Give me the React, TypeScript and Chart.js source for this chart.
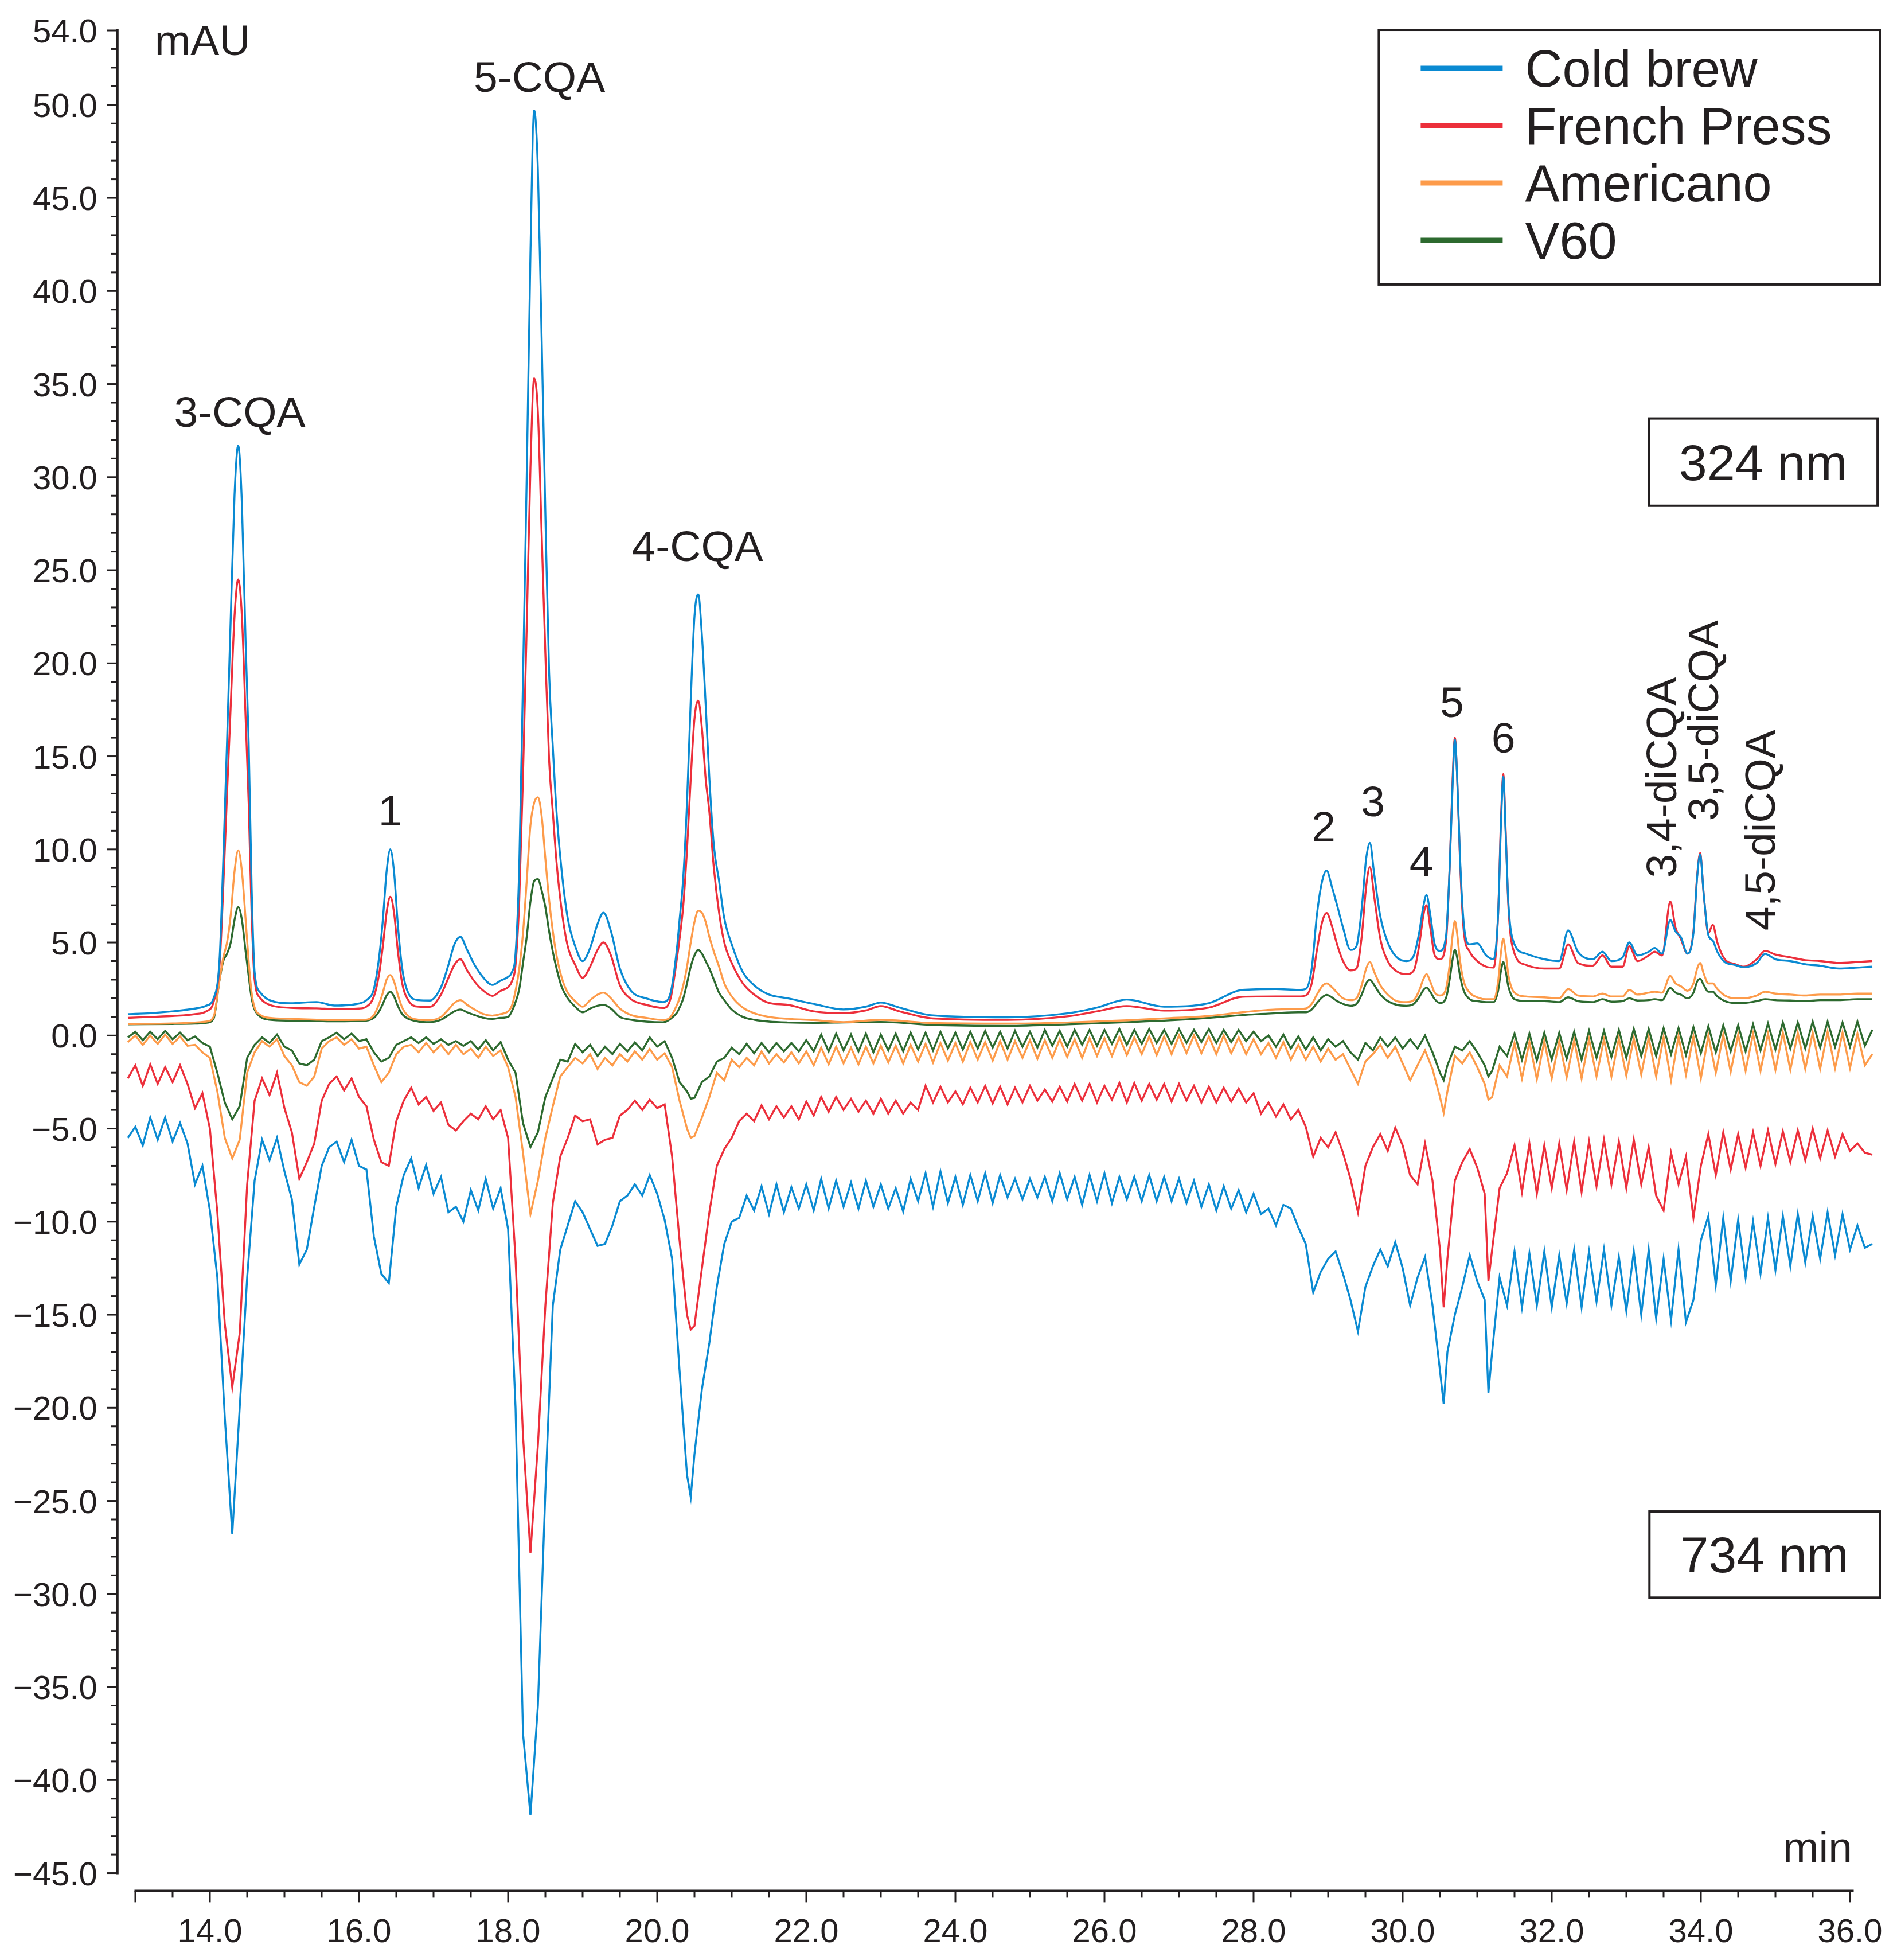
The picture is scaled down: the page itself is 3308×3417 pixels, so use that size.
import React, { useEffect, useRef } from 'react';
import { Chart, registerables } from 'chart.js';

Chart.register(...registerables);

const seriesNames = ['Cold brew', 'French Press', 'Americano', 'V60'];
const seriesColors = ['#0a8ad2', '#ec2f3b', '#fd9b4a', '#2d6a2f'];

// 324 nm traces: [retention time (min), signal (mAU)]
const coldBrew324: [number, number][] = [
  [12.9, 1.15], [13.2, 1.2], [13.5, 1.3], [13.8, 1.45], [13.95, 1.6], [14.05, 2.0], [14.13, 4.1], [14.18, 9.5], [14.23, 15.8], [14.28, 22.5],
  [14.33, 29.0], [14.38, 31.7], [14.43, 28.5], [14.48, 21.0], [14.52, 15.8], [14.56, 8.0], [14.6, 3.4], [14.68, 2.3], [14.8, 1.9], [15.08, 1.74],
  [15.43, 1.8], [15.67, 1.61], [16.0, 1.72], [16.1, 1.9], [16.2, 2.5], [16.27, 4.2], [16.32, 6.2], [16.37, 8.8], [16.42, 10.0], [16.47, 8.8],
  [16.52, 6.0], [16.58, 3.6], [16.66, 2.3], [16.8, 1.9], [16.95, 1.88], [17.1, 2.6], [17.2, 3.8], [17.28, 4.9], [17.36, 5.3], [17.45, 4.6],
  [17.55, 3.8], [17.67, 3.1], [17.79, 2.72], [17.9, 2.95], [18.0, 3.15], [18.05, 3.4], [18.1, 4.4], [18.15, 9.1], [18.2, 19.1], [18.25, 30.0],
  [18.3, 42.0], [18.35, 49.7], [18.4, 46.5], [18.45, 37.5], [18.5, 28.0], [18.55, 19.5], [18.6, 15.5], [18.65, 12.0], [18.72, 8.8], [18.8, 6.3],
  [18.9, 4.8], [19.0, 4.0], [19.1, 4.7], [19.2, 6.0], [19.28, 6.6], [19.38, 5.6], [19.5, 3.6], [19.65, 2.4], [19.85, 2.0], [20.08, 1.8],
  [20.18, 2.3], [20.26, 4.5], [20.3, 6.2], [20.35, 8.5], [20.4, 12.5], [20.45, 18.0], [20.5, 22.5], [20.55, 23.7], [20.6, 21.5], [20.65, 17.8],
  [20.7, 13.8], [20.76, 10.2], [20.83, 8.3], [20.9, 6.3], [21.0, 4.9], [21.15, 3.4], [21.3, 2.7], [21.5, 2.2], [21.75, 2.0], [22.1, 1.7],
  [22.5, 1.4], [22.8, 1.55], [23.0, 1.77], [23.25, 1.5], [23.7, 1.08], [24.7, 0.98], [25.5, 1.19], [25.9, 1.5], [26.3, 1.93], [26.8, 1.55],
  [27.4, 1.74], [27.85, 2.45], [28.3, 2.5], [28.6, 2.45], [28.7, 2.5], [28.78, 3.6], [28.85, 6.5], [28.92, 8.3], [28.98, 8.86], [29.05, 8.0],
  [29.12, 7.0], [29.2, 5.8], [29.3, 4.6], [29.38, 4.8], [29.45, 6.8], [29.51, 9.5], [29.56, 10.35], [29.62, 8.6], [29.7, 6.4], [29.8, 5.0],
  [29.92, 4.2], [30.05, 4.0], [30.15, 4.3], [30.22, 5.5], [30.28, 7.0], [30.32, 7.55], [30.37, 6.5], [30.43, 4.9], [30.5, 4.55], [30.58, 5.3],
  [30.63, 9.0], [30.67, 13.5], [30.7, 15.9], [30.73, 14.0], [30.77, 9.5], [30.82, 6.0], [30.9, 4.9], [31.0, 4.95], [31.12, 4.3], [31.22, 4.1],
  [31.28, 6.5], [31.32, 11.5], [31.35, 13.9], [31.38, 11.0], [31.42, 7.0], [31.5, 4.9], [31.65, 4.4], [31.9, 4.1], [32.1, 4.0], [32.22, 5.65],
  [32.35, 4.5], [32.55, 4.1], [32.68, 4.5], [32.8, 4.0], [32.95, 4.2], [33.04, 5.0], [33.15, 4.3], [33.3, 4.5], [33.38, 4.7], [33.48, 4.4],
  [33.59, 6.2], [33.66, 5.6], [33.73, 5.3], [33.82, 4.4], [33.9, 5.5], [33.95, 8.5], [33.99, 9.73], [34.04, 7.5], [34.1, 5.4], [34.16, 5.1],
  [34.22, 4.5], [34.32, 3.95], [34.45, 3.8], [34.58, 3.67], [34.75, 3.9], [34.86, 4.38], [35.0, 4.1], [35.2, 4.0], [35.4, 3.83], [35.6, 3.75],
  [35.85, 3.6], [36.1, 3.65], [36.3, 3.7],
];

const frenchPress324: [number, number][] = [
  [12.9, 0.95], [13.2, 1.0], [13.5, 1.05], [13.8, 1.15], [13.95, 1.3], [14.05, 1.8], [14.13, 3.8], [14.18, 8.0], [14.23, 13.0], [14.28, 17.8],
  [14.33, 22.5], [14.38, 24.5], [14.43, 22.5], [14.48, 17.0], [14.52, 12.5], [14.56, 6.5], [14.6, 3.0], [14.68, 2.0], [14.8, 1.65], [15.08, 1.49],
  [15.43, 1.46], [15.67, 1.42], [16.0, 1.45], [16.1, 1.55], [16.2, 2.1], [16.27, 3.3], [16.32, 4.8], [16.37, 6.6], [16.42, 7.45], [16.47, 6.6],
  [16.52, 4.6], [16.58, 2.8], [16.66, 1.9], [16.8, 1.55], [16.95, 1.54], [17.1, 2.2], [17.2, 3.1], [17.28, 3.8], [17.36, 4.1], [17.45, 3.5],
  [17.55, 2.9], [17.67, 2.4], [17.79, 2.13], [17.9, 2.4], [18.0, 2.6], [18.05, 2.9], [18.1, 3.8], [18.15, 7.3], [18.2, 14.0], [18.25, 22.0],
  [18.3, 30.5], [18.35, 35.3], [18.4, 33.5], [18.45, 27.0], [18.5, 20.5], [18.55, 14.8], [18.6, 12.0], [18.65, 9.3], [18.72, 6.7], [18.8, 4.8],
  [18.9, 3.8], [19.0, 3.1], [19.1, 3.7], [19.2, 4.6], [19.28, 5.0], [19.38, 4.3], [19.5, 2.7], [19.65, 1.95], [19.85, 1.65], [20.08, 1.48],
  [20.18, 2.0], [20.26, 4.0], [20.3, 5.2], [20.35, 7.0], [20.4, 10.0], [20.45, 13.8], [20.5, 17.0], [20.55, 18.0], [20.6, 16.5], [20.65, 13.8],
  [20.7, 12.0], [20.76, 9.0], [20.83, 6.6], [20.9, 5.0], [21.0, 3.9], [21.15, 2.8], [21.3, 2.2], [21.5, 1.75], [21.75, 1.65], [22.1, 1.3],
  [22.5, 1.2], [22.8, 1.35], [23.0, 1.58], [23.25, 1.3], [23.7, 0.92], [24.7, 0.84], [25.5, 1.03], [25.9, 1.3], [26.3, 1.58], [26.8, 1.34],
  [27.4, 1.5], [27.85, 2.08], [28.3, 2.1], [28.6, 2.1], [28.7, 2.15], [28.78, 2.8], [28.85, 4.6], [28.92, 6.1], [28.98, 6.58], [29.05, 5.9],
  [29.12, 4.9], [29.2, 4.0], [29.3, 3.5], [29.38, 3.6], [29.45, 5.3], [29.51, 8.0], [29.56, 9.05], [29.62, 7.4], [29.7, 5.2], [29.8, 4.0],
  [29.92, 3.45], [30.05, 3.3], [30.15, 3.5], [30.22, 4.8], [30.28, 6.5], [30.32, 7.0], [30.37, 5.8], [30.43, 4.3], [30.5, 4.1], [30.58, 5.0],
  [30.63, 9.0], [30.67, 13.8], [30.7, 16.0], [30.73, 14.0], [30.77, 9.3], [30.82, 5.6], [30.9, 4.5], [31.0, 4.0], [31.12, 3.7], [31.22, 3.65],
  [31.28, 6.5], [31.32, 11.8], [31.35, 14.05], [31.38, 11.2], [31.42, 6.8], [31.5, 4.4], [31.65, 3.8], [31.9, 3.6], [32.1, 3.6], [32.22, 4.9],
  [32.35, 3.9], [32.55, 3.75], [32.68, 4.3], [32.8, 3.7], [32.95, 3.7], [33.04, 4.8], [33.15, 4.0], [33.3, 4.3], [33.38, 4.5], [33.48, 4.3],
  [33.59, 7.2], [33.66, 5.8], [33.73, 5.2], [33.82, 4.4], [33.9, 5.6], [33.95, 8.6], [33.99, 9.8], [34.04, 7.5], [34.1, 5.5], [34.16, 5.95],
  [34.22, 5.0], [34.32, 4.1], [34.45, 3.85], [34.58, 3.7], [34.75, 4.1], [34.86, 4.55], [35.0, 4.35], [35.2, 4.2], [35.4, 4.05], [35.6, 4.0],
  [35.85, 3.9], [36.1, 3.95], [36.3, 4.0],
];

const americano324: [number, number][] = [
  [12.9, 0.62], [13.5, 0.65], [13.8, 0.7], [13.95, 0.75], [14.05, 1.0], [14.13, 3.0], [14.18, 4.2], [14.23, 5.0], [14.28, 6.5], [14.33, 8.8],
  [14.38, 9.95], [14.43, 8.8], [14.48, 6.2], [14.52, 4.0], [14.56, 2.3], [14.6, 1.5], [14.68, 1.1], [14.8, 0.95], [15.08, 0.9], [15.43, 0.85],
  [15.67, 0.83], [16.0, 0.84], [16.1, 0.85], [16.2, 1.1], [16.27, 1.7], [16.32, 2.3], [16.37, 3.0], [16.42, 3.25], [16.47, 2.9], [16.52, 2.2],
  [16.58, 1.5], [16.66, 1.05], [16.8, 0.85], [16.95, 0.83], [17.1, 1.0], [17.2, 1.4], [17.28, 1.75], [17.36, 1.9], [17.45, 1.65], [17.55, 1.4],
  [17.67, 1.15], [17.79, 1.07], [17.9, 1.15], [18.0, 1.3], [18.05, 1.6], [18.1, 2.4], [18.15, 3.6], [18.2, 5.5], [18.25, 8.3], [18.3, 11.3],
  [18.35, 12.5], [18.4, 12.8], [18.45, 11.8], [18.5, 9.5], [18.55, 7.3], [18.6, 5.6], [18.65, 4.3], [18.72, 3.1], [18.8, 2.3], [18.9, 1.85],
  [19.0, 1.55], [19.1, 1.9], [19.2, 2.2], [19.28, 2.3], [19.38, 2.0], [19.5, 1.45], [19.65, 1.1], [19.85, 0.95], [20.08, 0.83], [20.18, 1.0],
  [20.26, 1.6], [20.3, 2.0], [20.35, 2.7], [20.4, 3.7], [20.45, 5.0], [20.5, 6.1], [20.55, 6.7], [20.6, 6.6], [20.65, 6.1], [20.7, 5.3],
  [20.76, 4.5], [20.83, 3.7], [20.9, 2.8], [21.0, 2.1], [21.15, 1.5], [21.3, 1.2], [21.5, 1.0], [21.75, 0.9], [22.1, 0.83], [22.5, 0.72],
  [23.0, 0.84], [23.7, 0.67], [24.7, 0.64], [25.5, 0.7], [26.3, 0.82], [26.8, 0.92], [27.4, 1.05], [27.85, 1.25], [28.3, 1.4], [28.6, 1.42],
  [28.7, 1.45], [28.78, 1.7], [28.85, 2.2], [28.92, 2.65], [28.98, 2.8], [29.05, 2.6], [29.12, 2.3], [29.2, 2.0], [29.3, 1.9], [29.38, 2.0],
  [29.45, 2.7], [29.51, 3.6], [29.56, 3.95], [29.62, 3.4], [29.7, 2.7], [29.8, 2.2], [29.92, 1.85], [30.05, 1.8], [30.15, 1.9], [30.22, 2.4],
  [30.28, 3.05], [30.32, 3.3], [30.37, 2.9], [30.43, 2.3], [30.5, 2.15], [30.58, 2.5], [30.63, 3.8], [30.67, 5.4], [30.7, 6.15], [30.73, 5.5],
  [30.77, 4.0], [30.82, 2.9], [30.9, 2.3], [31.0, 2.05], [31.12, 1.95], [31.22, 1.95], [31.28, 2.9], [31.32, 4.5], [31.35, 5.2], [31.38, 4.5],
  [31.42, 3.2], [31.5, 2.3], [31.65, 2.1], [31.9, 2.05], [32.1, 2.0], [32.22, 2.5], [32.35, 2.15], [32.55, 2.1], [32.68, 2.25], [32.8, 2.1],
  [32.95, 2.1], [33.04, 2.45], [33.15, 2.2], [33.3, 2.3], [33.38, 2.35], [33.48, 2.3], [33.59, 3.2], [33.66, 2.8], [33.73, 2.65], [33.82, 2.4],
  [33.9, 2.8], [33.95, 3.6], [33.99, 3.9], [34.04, 3.3], [34.1, 2.8], [34.16, 2.8], [34.22, 2.5], [34.32, 2.15], [34.45, 2.0], [34.58, 2.0],
  [34.75, 2.15], [34.86, 2.35], [35.0, 2.25], [35.2, 2.2], [35.4, 2.15], [35.6, 2.2], [35.85, 2.2], [36.1, 2.25], [36.3, 2.25],
];

const v60324: [number, number][] = [
  [12.9, 0.6], [13.5, 0.62], [13.8, 0.64], [13.95, 0.68], [14.05, 0.9], [14.13, 3.0], [14.18, 4.0], [14.23, 4.4], [14.28, 5.0], [14.33, 6.2],
  [14.38, 6.9], [14.43, 6.2], [14.48, 4.5], [14.52, 3.2], [14.56, 2.0], [14.6, 1.4], [14.68, 1.0], [14.8, 0.85], [15.08, 0.8], [15.43, 0.78],
  [15.67, 0.76], [16.0, 0.78], [16.1, 0.8], [16.2, 0.95], [16.27, 1.3], [16.32, 1.7], [16.37, 2.15], [16.42, 2.35], [16.47, 2.1], [16.52, 1.6],
  [16.58, 1.15], [16.66, 0.9], [16.8, 0.75], [16.95, 0.72], [17.1, 0.85], [17.2, 1.1], [17.28, 1.3], [17.36, 1.4], [17.45, 1.25], [17.55, 1.1],
  [17.67, 0.95], [17.79, 0.89], [17.9, 0.95], [18.0, 1.0], [18.05, 1.3], [18.1, 1.8], [18.15, 2.5], [18.2, 3.9], [18.25, 5.3], [18.3, 7.2],
  [18.35, 8.3], [18.4, 8.4], [18.45, 7.8], [18.5, 6.9], [18.55, 5.6], [18.6, 4.5], [18.65, 3.6], [18.72, 2.6], [18.8, 2.0], [18.9, 1.55],
  [19.0, 1.25], [19.1, 1.45], [19.2, 1.6], [19.28, 1.65], [19.38, 1.45], [19.5, 1.0], [19.65, 0.85], [19.85, 0.75], [20.08, 0.71], [20.18, 0.9],
  [20.26, 1.2], [20.3, 1.5], [20.35, 2.0], [20.4, 2.8], [20.45, 3.7], [20.5, 4.3], [20.55, 4.6], [20.6, 4.4], [20.65, 4.0], [20.7, 3.6],
  [20.76, 3.0], [20.83, 2.3], [20.9, 1.9], [21.0, 1.4], [21.15, 1.0], [21.3, 0.85], [21.5, 0.75], [21.75, 0.7], [22.1, 0.68], [22.5, 0.7],
  [23.0, 0.73], [23.7, 0.57], [24.7, 0.52], [25.5, 0.6], [26.3, 0.72], [26.8, 0.8], [27.4, 0.95], [27.85, 1.1], [28.3, 1.2], [28.6, 1.25],
  [28.7, 1.25], [28.78, 1.4], [28.85, 1.75], [28.92, 2.05], [28.98, 2.18], [29.05, 2.05], [29.12, 1.85], [29.2, 1.7], [29.3, 1.6], [29.38, 1.7],
  [29.45, 2.2], [29.51, 2.8], [29.56, 3.0], [29.62, 2.7], [29.7, 2.2], [29.8, 1.85], [29.92, 1.65], [30.05, 1.6], [30.15, 1.7], [30.22, 2.05],
  [30.28, 2.45], [30.32, 2.57], [30.37, 2.35], [30.43, 1.95], [30.5, 1.75], [30.58, 2.0], [30.63, 3.0], [30.67, 4.1], [30.7, 4.6], [30.73, 4.2],
  [30.77, 3.2], [30.82, 2.4], [30.9, 1.95], [31.0, 1.85], [31.12, 1.8], [31.22, 1.8], [31.28, 2.4], [31.32, 3.5], [31.35, 3.95], [31.38, 3.5],
  [31.42, 2.6], [31.5, 1.95], [31.65, 1.85], [31.9, 1.85], [32.1, 1.8], [32.22, 2.05], [32.35, 1.85], [32.55, 1.8], [32.68, 1.95], [32.8, 1.82],
  [32.95, 1.85], [33.04, 2.0], [33.15, 1.88], [33.3, 1.9], [33.38, 1.95], [33.48, 1.9], [33.59, 2.55], [33.66, 2.3], [33.73, 2.2], [33.82, 2.0],
  [33.9, 2.3], [33.95, 2.9], [33.99, 3.05], [34.04, 2.7], [34.1, 2.35], [34.16, 2.35], [34.22, 2.1], [34.32, 1.85], [34.45, 1.75], [34.58, 1.75],
  [34.75, 1.85], [34.86, 1.95], [35.0, 1.9], [35.2, 1.88], [35.4, 1.85], [35.6, 1.9], [35.85, 1.9], [36.1, 1.95], [36.3, 1.95],
];

// 734 nm traces (negative peaks): [retention time (min), signal (mAU)]
const coldBrew734: [number, number][] = [
  [12.9, -5.5], [13.0, -4.9], [13.1, -5.9], [13.2, -4.4], [13.3, -5.6], [13.4, -4.4], [13.5, -5.7], [13.6, -4.7], [13.7, -5.8], [13.8, -8.0],
  [13.9, -7.0], [14.0, -9.4], [14.1, -13.0], [14.2, -20.5], [14.3, -26.8], [14.4, -20.0], [14.5, -13.0], [14.6, -7.8], [14.7, -5.6], [14.8, -6.7],
  [14.9, -5.5], [15.0, -7.3], [15.1, -8.8], [15.2, -12.3], [15.3, -11.5], [15.4, -9.2], [15.5, -7.0], [15.6, -6.0], [15.7, -5.7], [15.8, -6.8],
  [15.9, -5.6], [16.0, -7.0], [16.1, -7.2], [16.2, -10.8], [16.3, -12.8], [16.4, -13.3], [16.5, -9.2], [16.6, -7.5], [16.7, -6.6], [16.8, -8.2],
  [16.9, -6.95], [17.0, -8.5], [17.1, -7.6], [17.2, -9.5], [17.3, -9.2], [17.4, -10.0], [17.5, -8.3], [17.6, -9.4], [17.7, -7.7], [17.8, -9.3],
  [17.9, -8.2], [18.0, -10.4], [18.1, -20.0], [18.2, -37.5], [18.3, -41.9], [18.4, -36.0], [18.5, -24.5], [18.6, -14.5], [18.7, -11.5], [18.8, -10.2],
  [18.9, -8.9], [19.0, -9.5], [19.1, -10.4], [19.2, -11.3], [19.3, -11.2], [19.4, -10.2], [19.5, -8.9], [19.6, -8.6], [19.7, -8.0], [19.8, -8.6],
  [19.9, -7.5], [20.0, -8.5], [20.1, -9.9], [20.2, -12.0], [20.3, -18.0], [20.4, -23.6], [20.45, -24.8], [20.5, -22.5], [20.6, -19.0], [20.7, -16.5],
  [20.8, -13.5], [20.9, -11.2], [21.0, -10.0], [21.1, -9.8], [21.2, -8.6], [21.3, -9.4], [21.4, -8.1], [21.5, -9.6], [21.6, -8.0], [21.7, -9.5],
  [21.8, -8.15], [21.9, -9.3], [22.0, -8.0], [22.1, -9.4], [22.2, -7.7], [22.3, -9.3], [22.4, -7.8], [22.5, -9.2], [22.6, -7.9], [22.7, -9.3],
  [22.8, -7.8], [22.9, -9.2], [23.0, -8.0], [23.1, -9.3], [23.2, -8.2], [23.3, -9.45], [23.4, -7.7], [23.5, -8.9], [23.6, -7.4], [23.7, -9.2],
  [23.8, -7.3], [23.9, -9.0], [24.0, -7.6], [24.1, -9.1], [24.2, -7.5], [24.3, -8.9], [24.4, -7.4], [24.5, -9.0], [24.6, -7.5], [24.7, -8.7],
  [24.8, -7.7], [24.9, -8.8], [25.0, -7.7], [25.1, -8.7], [25.2, -7.6], [25.3, -8.9], [25.4, -7.4], [25.5, -8.8], [25.6, -7.6], [25.7, -9.1],
  [25.8, -7.5], [25.9, -8.9], [26.0, -7.4], [26.1, -9.0], [26.2, -7.6], [26.3, -8.8], [26.4, -7.6], [26.5, -8.9], [26.6, -7.5], [26.7, -8.9],
  [26.8, -7.6], [26.9, -8.9], [27.0, -7.7], [27.1, -9.0], [27.2, -7.8], [27.3, -9.2], [27.4, -8.0], [27.5, -9.4], [27.6, -8.1], [27.7, -9.3],
  [27.8, -8.3], [27.9, -9.5], [28.0, -8.5], [28.1, -9.6], [28.2, -9.3], [28.3, -10.2], [28.4, -9.1], [28.5, -9.3], [28.6, -10.3], [28.7, -11.2],
  [28.8, -13.8], [28.9, -12.7], [29.0, -12.0], [29.1, -11.6], [29.2, -12.8], [29.3, -14.2], [29.4, -15.9], [29.5, -13.5], [29.6, -12.4], [29.7, -11.5],
  [29.8, -12.4], [29.9, -11.1], [30.0, -12.5], [30.1, -14.5], [30.2, -13.0], [30.3, -11.9], [30.4, -14.5], [30.5, -18.0], [30.55, -19.8], [30.6, -17.0],
  [30.7, -15.0], [30.8, -13.5], [30.9, -11.8], [31.0, -13.2], [31.1, -14.2], [31.15, -19.2], [31.2, -17.0], [31.3, -13.0], [31.4, -14.5], [31.5, -11.6],
  [31.6, -14.6], [31.7, -11.7], [31.8, -14.5], [31.9, -11.6], [32.0, -14.6], [32.1, -11.8], [32.2, -14.4], [32.3, -11.5], [32.4, -14.6], [32.5, -11.6],
  [32.6, -14.3], [32.7, -11.5], [32.8, -14.5], [32.9, -11.9], [33.0, -14.8], [33.1, -11.6], [33.2, -15.0], [33.3, -11.5], [33.4, -15.2], [33.5, -12.0],
  [33.6, -15.3], [33.7, -11.5], [33.8, -15.4], [33.9, -14.2], [34.0, -11.0], [34.1, -9.7], [34.2, -13.4], [34.3, -9.8], [34.4, -13.2], [34.5, -9.9],
  [34.6, -13.0], [34.7, -10.0], [34.8, -12.8], [34.9, -9.8], [35.0, -12.6], [35.1, -9.7], [35.2, -12.4], [35.3, -9.6], [35.4, -12.2], [35.5, -9.7],
  [35.6, -12.0], [35.7, -9.5], [35.8, -11.8], [35.9, -9.6], [36.0, -11.5], [36.1, -10.2], [36.2, -11.4], [36.3, -11.2],
];

const frenchPress734: [number, number][] = [
  [12.9, -2.3], [13.0, -1.6], [13.1, -2.7], [13.2, -1.55], [13.3, -2.6], [13.4, -1.7], [13.5, -2.5], [13.6, -1.6], [13.7, -2.6], [13.8, -3.9],
  [13.9, -3.1], [14.0, -5.0], [14.1, -9.5], [14.2, -15.5], [14.3, -18.9], [14.4, -16.0], [14.5, -8.0], [14.6, -3.5], [14.7, -2.3], [14.8, -3.2],
  [14.9, -2.0], [15.0, -3.9], [15.1, -5.2], [15.2, -7.7], [15.3, -6.8], [15.4, -5.8], [15.5, -3.5], [15.6, -2.6], [15.7, -2.2], [15.8, -2.95],
  [15.9, -2.3], [16.0, -3.3], [16.1, -3.8], [16.2, -5.6], [16.3, -6.8], [16.4, -7.0], [16.5, -4.6], [16.6, -3.5], [16.7, -2.8], [16.8, -3.7],
  [16.9, -3.3], [17.0, -4.05], [17.1, -3.6], [17.2, -4.8], [17.3, -5.1], [17.4, -4.6], [17.5, -4.2], [17.6, -4.5], [17.7, -3.8], [17.8, -4.5],
  [17.9, -4.0], [18.0, -5.5], [18.1, -12.0], [18.2, -21.5], [18.3, -27.8], [18.4, -22.0], [18.5, -14.5], [18.6, -9.0], [18.7, -6.5], [18.8, -5.5],
  [18.9, -4.3], [19.0, -4.6], [19.1, -4.5], [19.2, -5.85], [19.3, -5.6], [19.4, -5.5], [19.5, -4.3], [19.6, -4.0], [19.7, -3.5], [19.8, -4.0],
  [19.9, -3.45], [20.0, -3.9], [20.1, -3.7], [20.2, -6.5], [20.3, -11.0], [20.4, -15.0], [20.45, -15.8], [20.5, -15.6], [20.6, -12.5], [20.7, -9.5],
  [20.8, -7.0], [20.9, -6.1], [21.0, -5.5], [21.1, -4.6], [21.2, -4.2], [21.3, -4.6], [21.4, -3.75], [21.5, -4.5], [21.6, -3.8], [21.7, -4.4],
  [21.8, -3.8], [21.9, -4.5], [22.0, -3.55], [22.1, -4.3], [22.2, -3.3], [22.3, -4.1], [22.4, -3.3], [22.5, -4.0], [22.6, -3.4], [22.7, -4.1],
  [22.8, -3.5], [22.9, -4.2], [23.0, -3.4], [23.1, -4.2], [23.2, -3.5], [23.3, -4.2], [23.4, -3.6], [23.5, -4.0], [23.6, -2.7], [23.7, -3.6],
  [23.8, -2.75], [23.9, -3.6], [24.0, -3.0], [24.1, -3.7], [24.2, -2.8], [24.3, -3.6], [24.4, -2.7], [24.5, -3.65], [24.6, -2.75], [24.7, -3.7],
  [24.8, -2.8], [24.9, -3.6], [25.0, -2.7], [25.1, -3.5], [25.2, -2.9], [25.3, -3.55], [25.4, -2.75], [25.5, -3.55], [25.6, -2.6], [25.7, -3.5],
  [25.8, -2.6], [25.9, -3.6], [26.0, -2.7], [26.1, -3.45], [26.2, -2.55], [26.3, -3.6], [26.4, -2.55], [26.5, -3.5], [26.6, -2.6], [26.7, -3.45],
  [26.8, -2.6], [26.9, -3.55], [27.0, -2.6], [27.1, -3.5], [27.2, -2.7], [27.3, -3.6], [27.4, -2.75], [27.5, -3.6], [27.6, -2.8], [27.7, -3.55],
  [27.8, -2.85], [27.9, -3.6], [28.0, -3.1], [28.1, -4.2], [28.2, -3.6], [28.3, -4.35], [28.4, -3.7], [28.5, -4.5], [28.6, -4.0], [28.7, -4.9],
  [28.8, -6.5], [28.9, -5.5], [29.0, -6.0], [29.1, -5.2], [29.2, -6.3], [29.3, -7.7], [29.4, -9.5], [29.5, -7.0], [29.6, -6.0], [29.7, -5.3],
  [29.8, -6.2], [29.9, -4.95], [30.0, -5.9], [30.1, -7.5], [30.2, -8.0], [30.3, -5.8], [30.4, -7.8], [30.5, -11.5], [30.55, -14.6], [30.6, -12.0],
  [30.7, -7.8], [30.8, -6.8], [30.9, -6.1], [31.0, -7.1], [31.1, -8.5], [31.15, -13.2], [31.2, -11.5], [31.3, -8.2], [31.4, -7.4], [31.5, -5.9],
  [31.6, -8.4], [31.7, -5.8], [31.8, -8.5], [31.9, -5.9], [32.0, -8.2], [32.1, -5.8], [32.2, -8.3], [32.3, -5.7], [32.4, -8.4], [32.5, -5.7],
  [32.6, -8.1], [32.7, -5.6], [32.8, -8.0], [32.9, -5.7], [33.0, -8.2], [33.1, -5.6], [33.2, -8.0], [33.3, -6.0], [33.4, -8.6], [33.5, -9.4],
  [33.6, -6.3], [33.7, -8.0], [33.8, -6.5], [33.9, -9.8], [34.0, -7.0], [34.1, -5.3], [34.2, -7.5], [34.3, -5.2], [34.4, -7.2], [34.5, -5.3],
  [34.6, -7.1], [34.7, -5.2], [34.8, -7.0], [34.9, -5.1], [35.0, -6.9], [35.1, -5.15], [35.2, -6.8], [35.3, -5.1], [35.4, -6.7], [35.5, -5.0],
  [35.6, -6.6], [35.7, -5.1], [35.8, -6.5], [35.9, -5.3], [36.0, -6.2], [36.1, -5.8], [36.2, -6.3], [36.3, -6.4],
];

const americano734: [number, number][] = [
  [12.9, -0.35], [13.0, 0.0], [13.1, -0.5], [13.2, 0.0], [13.3, -0.45], [13.4, 0.05], [13.5, -0.45], [13.6, -0.05], [13.7, -0.55], [13.8, -0.5],
  [13.9, -0.9], [14.0, -1.2], [14.1, -3.0], [14.2, -5.5], [14.3, -6.6], [14.4, -5.6], [14.5, -2.0], [14.6, -0.9], [14.7, -0.3], [14.8, -0.6],
  [14.9, -0.2], [15.0, -1.1], [15.1, -1.6], [15.2, -2.5], [15.3, -2.7], [15.4, -2.2], [15.5, -0.7], [15.6, -0.3], [15.7, -0.1], [15.8, -0.5],
  [15.9, -0.2], [16.0, -0.7], [16.1, -0.6], [16.2, -1.6], [16.3, -2.5], [16.4, -2.0], [16.5, -1.0], [16.6, -0.6], [16.7, -0.5], [16.8, -0.9],
  [16.9, -0.4], [17.0, -0.9], [17.1, -0.5], [17.2, -1.0], [17.3, -0.5], [17.4, -1.0], [17.5, -0.7], [17.6, -1.2], [17.7, -0.6], [17.8, -1.1],
  [17.9, -0.8], [18.0, -1.7], [18.1, -3.3], [18.2, -6.3], [18.3, -9.6], [18.4, -7.8], [18.5, -5.5], [18.6, -3.8], [18.7, -2.2], [18.8, -1.7],
  [18.9, -1.2], [19.0, -1.5], [19.1, -1.0], [19.2, -1.8], [19.3, -1.2], [19.4, -1.6], [19.5, -1.0], [19.6, -1.4], [19.7, -0.85], [19.8, -1.3],
  [19.9, -0.72], [20.0, -1.3], [20.1, -0.95], [20.2, -1.7], [20.3, -3.5], [20.4, -5.0], [20.45, -5.5], [20.5, -5.4], [20.6, -4.4], [20.7, -3.3],
  [20.8, -2.0], [20.9, -2.4], [21.0, -1.3], [21.1, -1.7], [21.2, -1.2], [21.3, -1.6], [21.4, -0.85], [21.5, -1.5], [21.6, -1.0], [21.7, -1.45],
  [21.8, -0.9], [21.9, -1.5], [22.0, -0.85], [22.1, -1.6], [22.2, -0.65], [22.3, -1.55], [22.4, -0.6], [22.5, -1.5], [22.6, -0.65], [22.7, -1.55],
  [22.8, -0.6], [22.9, -1.5], [23.0, -0.55], [23.1, -1.45], [23.2, -0.55], [23.3, -1.5], [23.4, -0.5], [23.5, -1.4], [23.6, -0.45], [23.7, -1.45],
  [23.8, -0.4], [23.9, -1.35], [24.0, -0.4], [24.1, -1.4], [24.2, -0.35], [24.3, -1.3], [24.4, -0.35], [24.5, -1.35], [24.6, -0.3], [24.7, -1.3],
  [24.8, -0.3], [24.9, -1.2], [25.0, -0.25], [25.1, -1.25], [25.2, -0.25], [25.3, -1.2], [25.4, -0.2], [25.5, -1.15], [25.6, -0.2], [25.7, -1.2],
  [25.8, -0.15], [25.9, -1.1], [26.0, -0.15], [26.1, -1.1], [26.2, -0.1], [26.3, -1.05], [26.4, -0.1], [26.5, -1.0], [26.6, -0.05], [26.7, -1.05],
  [26.8, -0.05], [26.9, -1.0], [27.0, 0.0], [27.1, -0.95], [27.2, 0.0], [27.3, -0.95], [27.4, -0.05], [27.5, -1.0], [27.6, 0.0], [27.7, -0.95],
  [27.8, -0.1], [27.9, -1.0], [28.0, -0.2], [28.1, -1.0], [28.2, -0.4], [28.3, -1.2], [28.4, -0.35], [28.5, -1.3], [28.6, -0.5], [28.7, -1.3],
  [28.8, -0.6], [28.9, -1.4], [29.0, -0.7], [29.1, -1.3], [29.2, -1.0], [29.3, -1.8], [29.4, -2.6], [29.5, -1.4], [29.6, -1.0], [29.7, -0.5],
  [29.8, -1.2], [29.9, -0.6], [30.0, -1.5], [30.1, -2.4], [30.2, -1.6], [30.3, -0.8], [30.4, -1.8], [30.5, -3.3], [30.55, -4.15], [30.6, -3.0],
  [30.7, -1.1], [30.8, -1.5], [30.9, -0.9], [31.0, -1.7], [31.1, -2.6], [31.15, -3.45], [31.2, -3.3], [31.3, -1.6], [31.4, -2.2], [31.5, -0.4],
  [31.6, -2.3], [31.7, -0.35], [31.8, -2.35], [31.9, -0.3], [32.0, -2.3], [32.1, -0.3], [32.2, -2.25], [32.3, -0.25], [32.4, -2.3], [32.5, -0.2],
  [32.6, -2.2], [32.7, -0.2], [32.8, -2.2], [32.9, -0.15], [33.0, -2.15], [33.1, -0.15], [33.2, -2.1], [33.3, -0.1], [33.4, -2.2], [33.5, -0.1],
  [33.6, -2.4], [33.7, -0.05], [33.8, -2.1], [33.9, -0.05], [34.0, -2.3], [34.1, 0.0], [34.2, -2.0], [34.3, 0.05], [34.4, -1.95], [34.5, 0.05],
  [34.6, -1.9], [34.7, 0.1], [34.8, -1.9], [34.9, 0.1], [35.0, -1.85], [35.1, 0.15], [35.2, -1.85], [35.3, 0.15], [35.4, -1.8], [35.5, 0.15],
  [35.6, -1.8], [35.7, 0.2], [35.8, -1.75], [35.9, 0.15], [36.0, -1.75], [36.1, 0.1], [36.2, -1.6], [36.3, -1.0],
];

const v60734: [number, number][] = [
  [12.9, -0.1], [13.0, 0.2], [13.1, -0.25], [13.2, 0.2], [13.3, -0.2], [13.4, 0.25], [13.5, -0.2], [13.6, 0.15], [13.7, -0.25], [13.8, -0.05],
  [13.9, -0.4], [14.0, -0.6], [14.1, -2.0], [14.2, -3.6], [14.3, -4.5], [14.4, -3.8], [14.5, -1.2], [14.6, -0.5], [14.7, -0.1], [14.8, -0.4],
  [14.9, 0.05], [15.0, -0.6], [15.1, -0.8], [15.2, -1.5], [15.3, -1.6], [15.4, -1.3], [15.5, -0.3], [15.6, -0.1], [15.7, 0.15], [15.8, -0.2],
  [15.9, 0.1], [16.0, -0.3], [16.1, -0.2], [16.2, -0.9], [16.3, -1.4], [16.4, -1.2], [16.5, -0.5], [16.6, -0.3], [16.7, -0.1], [16.8, -0.4],
  [16.9, -0.1], [17.0, -0.45], [17.1, -0.2], [17.2, -0.5], [17.3, -0.3], [17.4, -0.55], [17.5, -0.3], [17.6, -0.75], [17.7, -0.25], [17.8, -0.8],
  [17.9, -0.35], [18.0, -1.3], [18.1, -2.0], [18.2, -4.7], [18.3, -6.0], [18.4, -5.2], [18.5, -3.3], [18.6, -2.3], [18.7, -1.3], [18.8, -1.4],
  [18.9, -0.45], [19.0, -0.9], [19.1, -0.5], [19.2, -1.1], [19.3, -0.6], [19.4, -1.0], [19.5, -0.45], [19.6, -0.85], [19.7, -0.37], [19.8, -0.8],
  [19.9, -0.1], [20.0, -0.6], [20.1, -0.3], [20.2, -1.2], [20.3, -2.5], [20.4, -3.0], [20.45, -3.4], [20.5, -3.35], [20.6, -2.5], [20.7, -2.2],
  [20.8, -1.4], [20.9, -1.2], [21.0, -0.65], [21.1, -1.0], [21.2, -0.45], [21.3, -0.95], [21.4, -0.4], [21.5, -0.9], [21.6, -0.4], [21.7, -0.85],
  [21.8, -0.4], [21.9, -0.85], [22.0, -0.25], [22.1, -0.85], [22.2, 0.05], [22.3, -0.85], [22.4, 0.1], [22.5, -0.8], [22.6, 0.05], [22.7, -0.85],
  [22.8, 0.1], [22.9, -0.9], [23.0, 0.05], [23.1, -0.8], [23.2, 0.1], [23.3, -0.85], [23.4, 0.15], [23.5, -0.75], [23.6, 0.15], [23.7, -0.8],
  [23.8, 0.2], [23.9, -0.7], [24.0, 0.15], [24.1, -0.75], [24.2, 0.2], [24.3, -0.7], [24.4, 0.25], [24.5, -0.65], [24.6, 0.2], [24.7, -0.7],
  [24.8, 0.25], [24.9, -0.6], [25.0, 0.2], [25.1, -0.65], [25.2, 0.3], [25.3, -0.55], [25.4, 0.25], [25.5, -0.6], [25.6, 0.3], [25.7, -0.5],
  [25.8, 0.3], [25.9, -0.55], [26.0, 0.3], [26.1, -0.45], [26.2, 0.35], [26.3, -0.5], [26.4, 0.3], [26.5, -0.45], [26.6, 0.35], [26.7, -0.4],
  [26.8, 0.3], [26.9, -0.45], [27.0, 0.35], [27.1, -0.4], [27.2, 0.3], [27.3, -0.35], [27.4, 0.35], [27.5, -0.4], [27.6, 0.3], [27.7, -0.35],
  [27.8, 0.3], [27.9, -0.3], [28.0, 0.2], [28.1, -0.3], [28.2, 0.0], [28.3, -0.6], [28.4, 0.05], [28.5, -0.7], [28.6, -0.05], [28.7, -0.75],
  [28.8, -0.1], [28.9, -0.8], [29.0, -0.2], [29.1, -0.6], [29.2, -0.3], [29.3, -0.9], [29.4, -1.3], [29.5, -0.4], [29.6, -0.8], [29.7, -0.1],
  [29.8, -0.6], [29.9, -0.1], [30.0, -0.7], [30.1, -0.2], [30.2, -0.7], [30.3, 0.0], [30.4, -0.9], [30.5, -2.0], [30.55, -2.4], [30.6, -1.6],
  [30.7, -0.6], [30.8, -0.8], [30.9, -0.3], [31.0, -0.9], [31.1, -1.6], [31.15, -2.2], [31.2, -1.9], [31.3, -0.6], [31.4, -1.1], [31.5, 0.1],
  [31.6, -1.3], [31.7, 0.1], [31.8, -1.35], [31.9, 0.15], [32.0, -1.3], [32.1, 0.15], [32.2, -1.25], [32.3, 0.2], [32.4, -1.3], [32.5, 0.25],
  [32.6, -1.2], [32.7, 0.25], [32.8, -1.15], [32.9, 0.3], [33.0, -1.2], [33.1, 0.35], [33.2, -1.1], [33.3, 0.35], [33.4, -1.1], [33.5, 0.4],
  [33.6, -1.0], [33.7, 0.4], [33.8, -1.05], [33.9, 0.45], [34.0, -0.95], [34.1, 0.5], [34.2, -0.9], [34.3, 0.55], [34.4, -0.85], [34.5, 0.55],
  [34.6, -0.85], [34.7, 0.6], [34.8, -0.8], [34.9, 0.65], [35.0, -0.75], [35.1, 0.7], [35.2, -0.7], [35.3, 0.7], [35.4, -0.7], [35.5, 0.75],
  [35.6, -0.65], [35.7, 0.75], [35.8, -0.6], [35.9, 0.7], [36.0, -0.6], [36.1, 0.75], [36.2, -0.55], [36.3, 0.3],
];

const traces324 = [coldBrew324, frenchPress324, americano324, v60324];
const traces734 = [coldBrew734, frenchPress734, americano734, v60734];

const yTickLabels = [54, 50, 45, 40, 35, 30, 25, 20, 15, 10, 5, 0, -5, -10, -15, -20, -25, -30, -35, -40, -45];
const xTickLabels = [14, 16, 18, 20, 22, 24, 26, 28, 30, 32, 34, 36];

const peakNames = ['3-CQA', '1', '5-CQA', '4-CQA', '2', '3', '4', '5', '6'];
const peakNamePos: [number, number][] = [
  [14.4, 32.7], [16.42, 11.3], [18.42, 50.7], [20.54, 25.5], [28.94, 10.43], [29.6, 11.77], [30.25, 8.55], [30.66, 17.1], [31.35, 15.2],
];
const diNames = ['3,4-diCQA', '3,5-diCQA', '4,5-diCQA'];
const diNamePos: [number, number][] = [[33.67, 8.47], [34.23, 11.53], [34.99, 5.64]];
const waveNames = ['324 nm', '734 nm'];
const waveBoxes: [number, number, number, number][] = [[33.3, 33.15, 36.37, 28.46], [33.31, -25.57, 36.4, -30.2]];
const legendBox: [number, number, number, number] = [29.68, 54.03, 36.4, 40.35];

const FONT = '"Liberation Sans", Arial, Helvetica, sans-serif';
const INK = '#231f20';

const fmt = (v: number) => (v < 0 ? '\u2212' + Math.abs(v).toFixed(1) : v.toFixed(1));

const decor = {
  id: 'decor',
  afterDraw(chart: any) {
    const { ctx } = chart;
    const xs = chart.scales.x;
    const ys = chart.scales.y;
    const X = (t: number) => xs.getPixelForValue(t);
    const Y = (v: number) => ys.getPixelForValue(v);
    const line = (x1: number, y1: number, x2: number, y2: number) => {
      ctx.beginPath();
      ctx.moveTo(x1, y1);
      ctx.lineTo(x2, y2);
      ctx.stroke();
    };
    ctx.save();
    ctx.strokeStyle = INK;
    ctx.fillStyle = INK;

    // y axis, detached from the x axis
    const ax = X(12.76);
    ctx.lineWidth = 4;
    line(ax, Y(54) - 2, ax, Y(-45) + 2);
    ctx.lineWidth = 3;
    for (let v = -45; v <= 54; v++) {
      const len = v % 5 === 0 || v === 54 ? 18 : 11;
      line(ax - len, Y(v), ax, Y(v));
    }
    ctx.font = `58px ${FONT}`;
    ctx.textAlign = 'right';
    ctx.textBaseline = 'alphabetic';
    yTickLabels.forEach((v) => ctx.fillText(fmt(v), ax - 35, Y(v) + 21));

    // x axis
    const ay = Y(-45.95);
    ctx.lineWidth = 4;
    line(X(13) - 1.5, ay, X(36.05), ay);
    ctx.lineWidth = 3;
    for (let i = 0; i <= 46; i++) {
      const t = 13 + i * 0.5;
      const len = i === 0 || t % 2 === 0 ? 20 : 12;
      line(X(t), ay, X(t), ay + len);
    }
    ctx.textAlign = 'center';
    xTickLabels.forEach((t) => ctx.fillText(t.toFixed(1), X(t), ay + 90));

    // units
    ctx.font = `75px ${FONT}`;
    ctx.textAlign = 'left';
    ctx.fillText('mAU', X(13.26), Y(52.67));
    ctx.textAlign = 'right';
    ctx.fillText('min', X(36.03), Y(-44.4));

    // peak names
    ctx.textAlign = 'center';
    peakNames.forEach((s, i) => ctx.fillText(s, X(peakNamePos[i][0]), Y(peakNamePos[i][1])));
    ctx.textAlign = 'left';
    diNames.forEach((s, i) => {
      ctx.save();
      ctx.translate(X(diNamePos[i][0]), Y(diNamePos[i][1]));
      ctx.rotate(-Math.PI / 2);
      ctx.fillText(s, 0, 0);
      ctx.restore();
    });

    // wavelength boxes
    ctx.lineWidth = 4;
    ctx.font = `88px ${FONT}`;
    ctx.textAlign = 'center';
    waveNames.forEach((s, i) => {
      const [t1, v1, t2, v2] = waveBoxes[i];
      const x1 = X(t1), y1 = Y(v1), x2 = X(t2), y2 = Y(v2);
      ctx.strokeRect(x1, y1, x2 - x1, y2 - y1);
      ctx.fillText(s, (x1 + x2) / 2, (y1 + y2) / 2 + 31);
    });

    // legend
    const lx1 = X(legendBox[0]), ly1 = Y(legendBox[1]), lx2 = X(legendBox[2]), ly2 = Y(legendBox[3]);
    ctx.strokeRect(lx1, ly1, lx2 - lx1, ly2 - ly1);
    ctx.font = `90px ${FONT}`;
    ctx.textAlign = 'left';
    seriesNames.forEach((s, i) => {
      const cy = ly1 + 67 + i * 100;
      ctx.strokeStyle = seriesColors[i];
      ctx.lineWidth = 9;
      line(lx1 + 73, cy, lx1 + 216, cy);
      ctx.fillStyle = INK;
      ctx.fillText(s, lx1 + 255, cy + 32);
    });
    ctx.restore();
  },
};

const App: React.FC = () => {
  const chartRef = useRef<HTMLCanvasElement | null>(null);
  const chartInstanceRef = useRef<Chart | null>(null);

  useEffect(() => {
    if (!chartRef.current) return;
    const ctx = chartRef.current.getContext('2d');
    if (!ctx) return;

    if (chartInstanceRef.current) {
      chartInstanceRef.current.destroy();
    }

    const datasets: any[] = [];
    traces734.forEach((tr, i) => {
      datasets.push({
        label: seriesNames[i] + ' 734 nm',
        data: tr.map(([x, y]) => ({ x, y })),
        borderColor: seriesColors[i],
        borderWidth: 3.4,
        pointRadius: 0,
        fill: false,
        tension: 0,
      });
    });
    traces324.forEach((tr, i) => {
      datasets.push({
        label: seriesNames[i] + ' 324 nm',
        data: tr.map(([x, y]) => ({ x, y })),
        borderColor: seriesColors[i],
        borderWidth: 3.4,
        pointRadius: 0,
        fill: false,
        tension: 0.4,
        cubicInterpolationMode: 'monotone',
      });
    });

    chartInstanceRef.current = new Chart(ctx, {
      type: 'line',
      data: { datasets },
      options: {
        animation: false,
        responsive: false,
        devicePixelRatio: 1,
        events: [],
        layout: { padding: { left: 216.5, right: 30, top: 53, bottom: 151.45 } },
        scales: {
          x: { type: 'linear', min: 12.85, max: 36.4, display: false },
          y: { type: 'linear', min: -45, max: 54, display: false },
        },
        plugins: { legend: { display: false }, tooltip: { enabled: false } },
      },
      plugins: [decor],
    });

    return () => {
      if (chartInstanceRef.current) {
        chartInstanceRef.current.destroy();
        chartInstanceRef.current = null;
      }
    };
  }, []);

  return (
    <div style={{ position: 'absolute', left: 0, top: 0, width: 3308, height: 3417, background: '#fff' }}>
      <canvas ref={chartRef} width={3308} height={3417} style={{ display: 'block' }}></canvas>
    </div>
  );
};

export default App;
